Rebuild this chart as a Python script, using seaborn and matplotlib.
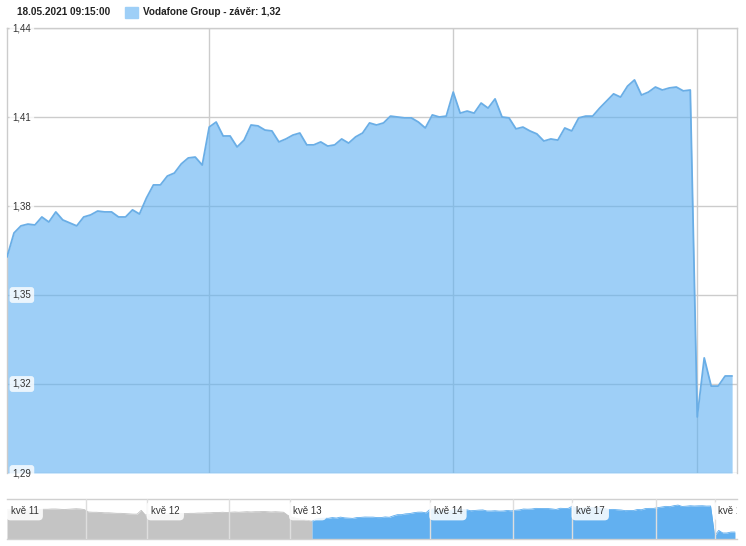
import numpy as np
import pandas as pd
import matplotlib
matplotlib.use("Agg")
import matplotlib.pyplot as plt
import seaborn as sns
from matplotlib.patches import Rectangle

# Vodafone Group intraday closes, 13.05 (part) to 18.05.2021
price = [
    1.3628, 1.3709, 1.3733, 1.3739, 1.3736, 1.3763, 1.3746, 1.3780, 1.3753, 1.3743,
    1.3733, 1.3763, 1.3770, 1.3783, 1.3780, 1.3780, 1.3763, 1.3763, 1.3787, 1.3773,
    1.3827, 1.3871, 1.3871, 1.3901, 1.3911, 1.3942, 1.3962, 1.3965, 1.3938,
    1.4066, 1.4083, 1.4036, 1.4036, 1.3999, 1.4022, 1.4073, 1.4070, 1.4056, 1.4053,
    1.4016, 1.4026, 1.4039, 1.4046, 1.4006, 1.4006, 1.4016, 1.4002, 1.4006, 1.4026,
    1.4012, 1.4033, 1.4046, 1.4080, 1.4073, 1.4080, 1.4103, 1.4100, 1.4097, 1.4097,
    1.4083, 1.4063, 1.4107, 1.4100, 1.4103,
    1.4184, 1.4113, 1.4120, 1.4113, 1.4147, 1.4130, 1.4161, 1.4100, 1.4097, 1.4060,
    1.4066, 1.4053, 1.4043, 1.4019, 1.4026, 1.4022, 1.4063, 1.4053, 1.4097, 1.4103,
    1.4103, 1.4130, 1.4154, 1.4178, 1.4167, 1.4204, 1.4225, 1.4174, 1.4184, 1.4201,
    1.4191, 1.4198, 1.4201, 1.4188, 1.4191,
    1.3089, 1.3288, 1.3193, 1.3193, 1.3227, 1.3227,
]

# earlier history shown only in the navigator (11.05, 12.05, start of 13.05)
history = [
    1.405, 1.405, 1.405, 1.405, 1.405, 1.405, 1.405, 1.406, 1.406, 1.407,
    1.407, 1.408, 1.408, 1.407, 1.406, 1.407, 1.408, 1.409, 1.408, 1.406,
    1.397, 1.396, 1.396, 1.395, 1.394, 1.394, 1.393, 1.392, 1.392, 1.391,
    1.390, 1.389, 1.389, 1.403, 1.386,
    1.387, 1.388, 1.389, 1.389, 1.390, 1.390, 1.391, 1.390, 1.391,
    1.391, 1.392, 1.392, 1.393, 1.393, 1.394, 1.394, 1.395, 1.395, 1.396, 1.395, 1.396,
    1.397, 1.396, 1.397, 1.398, 1.397, 1.398, 1.398, 1.399, 1.398, 1.397, 1.398, 1.397, 1.396,
    1.385,
    1.378, 1.374, 1.371, 1.369, 1.366,
]

y_ticks = [1.29, 1.32, 1.35, 1.38, 1.41, 1.44]
day_starts = [29, 64, 99]

nav_day_lines = [34.5, 69.5, 104, 139, 174]
nav_mid_lines = [19.5, 54.5, 124.5, 159.5]
nav_labels = ["kvě 11", "kvě 12", "kvě 13", "kvě 14", "kvě 17", "kvě 18"]
nav_label_pos = [0, 34.5, 69.5, 104, 139, 174]

header_time = "18.05.2021 09:15:00"
legend_label = "Vodafone Group - závěr: 1,32"

sns.set_style("white")
plt.rcParams["font.family"] = ["Liberation Sans", "DejaVu Sans"]

W, H = 746, 546
fig = plt.figure(figsize=(W / 100, H / 100), dpi=100)

# main chart
ax = fig.add_axes([7 / W, 73 / H, 730 / W, 445 / H])
df = pd.DataFrame({"i": np.arange(len(price)), "price": price})
for v in y_ticks:
    ax.axhline(v, color="#cccccc", lw=1, zorder=1)
for d in day_starts:
    ax.axvline(d, color="#cccccc", lw=1, zorder=1)
ax.fill_between(df["i"], df["price"], 1.29, color="#5db0f2", alpha=0.6, lw=0, zorder=2)
sns.lineplot(data=df, x="i", y="price", ax=ax, color="#6aaee6", lw=1.3, zorder=3)
ax.set_xlim(0, 104.7)
ax.set_ylim(1.29, 1.44)
ax.set_xticks([])
ax.set_yticks([])
ax.set_xlabel("")
ax.set_ylabel("")
for s in ax.spines.values():
    s.set_color("#cccccc")
    s.set_linewidth(1)
ax.spines["bottom"].set_visible(False)
for v in y_ticks:
    ax.text(0.0075, v, f"{v:.2f}".replace(".", ","), transform=ax.get_yaxis_transform(),
            ha="left", va="center", fontsize=7, color="#333333", zorder=5, clip_on=False,
            bbox=dict(boxstyle="round,pad=0.3", fc="white", ec="none", alpha=0.8))

# navigator
nav = fig.add_axes([7 / W, 7 / H, 730 / W, 40 / H])
nav_vals = history + price
nav_df = pd.DataFrame({"i": np.arange(len(nav_vals)), "v": nav_vals})
n0 = len(history)
grey = nav_df.iloc[: n0 + 1]
blue = nav_df.iloc[n0:]
nav.fill_between(grey["i"], grey["v"], 1.297, color="#c4c4c4", lw=0, zorder=1)
nav.fill_between(blue["i"], blue["v"], 1.297, color="#62b0f0", lw=0, zorder=1)
sns.lineplot(data=grey, x="i", y="v", ax=nav, color="#c0c0c0", lw=0.6, zorder=2)
sns.lineplot(data=blue, x="i", y="v", ax=nav, color="#5eadee", lw=0.6, zorder=2)
for x in nav_day_lines + nav_mid_lines:
    nav.axvline(x, color="#dedede", lw=1, zorder=3)
nav.set_xlim(0, len(nav_vals) - 0.5)
nav.set_ylim(1.297, 1.445)
nav.set_xticks([])
nav.set_yticks([])
nav.set_xlabel("")
nav.set_ylabel("")
for side in ["left", "right"]:
    nav.spines[side].set_visible(False)
for side in ["top", "bottom"]:
    nav.spines[side].set_color("#d0d0d0")
    nav.spines[side].set_linewidth(1)
for lab, x in zip(nav_labels, nav_label_pos):
    t = nav.text(x + 0.9, 0.7, lab, transform=nav.get_xaxis_transform(), ha="left", va="center",
                 fontsize=7, color="#333333", zorder=5,
                 bbox=dict(boxstyle="round,pad=0.45", fc="white", ec="none", alpha=0.85))
    t.set_clip_on(True)

# header
fig.text(17 / W, 1 - 12 / H, header_time, fontsize=7.2, weight="bold", color="#222222", va="center")
fig.patches.append(Rectangle((125 / W, 1 - 18 / H), 13 / W, 11 / H, transform=fig.transFigure,
                             color="#9ecff7", figure=fig))
fig.text(143 / W, 1 - 12 / H, legend_label, fontsize=7.2, weight="bold", color="#222222", va="center")

fig.savefig("out.png", dpi=100)
